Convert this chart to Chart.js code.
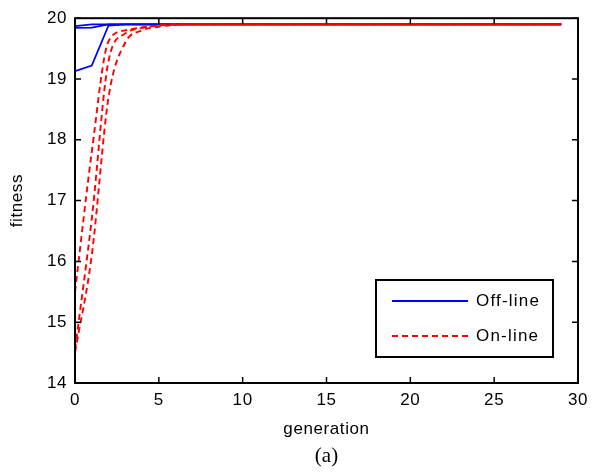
<!DOCTYPE html>
<html>
<head>
<meta charset="utf-8">
<script src="https://cdn.jsdelivr.net/npm/chart.js@4.4.1/dist/chart.umd.min.js"></script>
<style>
  html, body { margin: 0; padding: 0; background: #fff; }
  #wrap { width: 595px; height: 476px; }
</style>
</head>
<body>
<div id="wrap"><canvas id="mychart" width="595" height="476"></canvas></div>
<script>
// generations 0..29
var generations = [0, 1, 2, 3, 4, 5, 6, 7, 8, 9, 10, 11, 12, 13, 14, 15, 16, 17, 18, 19, 20, 21, 22, 23, 24, 25, 26, 27, 28, 29];

// off-line runs (blue, solid)
var offline1 = [19.13, 19.22, 19.88, 19.9, 19.9, 19.9, 19.9, 19.9, 19.9, 19.9, 19.9, 19.9, 19.9, 19.9, 19.9, 19.9, 19.9, 19.9, 19.9, 19.9, 19.9, 19.9, 19.9, 19.9, 19.9, 19.9, 19.9, 19.9, 19.9, 19.9];
var offline2 = [19.84, 19.845, 19.9, 19.9, 19.9, 19.9, 19.9, 19.9, 19.9, 19.9, 19.9, 19.9, 19.9, 19.9, 19.9, 19.9, 19.9, 19.9, 19.9, 19.9, 19.9, 19.9, 19.9, 19.9, 19.9, 19.9, 19.9, 19.9, 19.9, 19.9];
var offline3 = [19.87, 19.9, 19.9, 19.9, 19.9, 19.9, 19.9, 19.9, 19.9, 19.9, 19.9, 19.9, 19.9, 19.9, 19.9, 19.9, 19.9, 19.9, 19.9, 19.9, 19.9, 19.9, 19.9, 19.9, 19.9, 19.9, 19.9, 19.9, 19.9, 19.9];

// on-line runs (red, dashed)
var online1 = [15.5, 17.8, 19.62, 19.8, 19.85, 19.88, 19.9, 19.9, 19.9, 19.9, 19.9, 19.9, 19.9, 19.9, 19.9, 19.9, 19.9, 19.9, 19.9, 19.9, 19.9, 19.9, 19.9, 19.9, 19.9, 19.9, 19.9, 19.9, 19.9, 19.9];
var online2 = [14.55, 16.7, 19.3, 19.75, 19.84, 19.88, 19.9, 19.9, 19.9, 19.9, 19.9, 19.9, 19.9, 19.9, 19.9, 19.9, 19.9, 19.9, 19.9, 19.9, 19.9, 19.9, 19.9, 19.9, 19.9, 19.9, 19.9, 19.9, 19.9, 19.9];
var online3 = [14.5, 16.1, 18.7, 19.6, 19.8, 19.86, 19.89, 19.9, 19.9, 19.9, 19.9, 19.9, 19.9, 19.9, 19.9, 19.9, 19.9, 19.9, 19.9, 19.9, 19.9, 19.9, 19.9, 19.9, 19.9, 19.9, 19.9, 19.9, 19.9, 19.9];

var legendLabels = ['Off-line', 'On-line'];
var xTitle = 'generation';
var yTitle = 'fitness';
var caption = '(a)';

var BLUE = '#0000ff';
var RED = '#ff0000';
var FONT = '"Liberation Sans", Arial, sans-serif';

function toPoints(values) {
    return values.map(function (v, i) { return { x: generations[i], y: v }; });
}

function offSet(values) {
    return {
        label: legendLabels[0],
        data: toPoints(values),
        borderColor: BLUE,
        borderWidth: 1.8,
        pointRadius: 0,
        fill: false,
        order: 2
    };
}

function onSet(values) {
    return {
        label: legendLabels[1],
        data: toPoints(values),
        borderColor: RED,
        borderWidth: 1.9,
        borderDash: [6, 4],
        pointRadius: 0,
        fill: false,
        cubicInterpolationMode: 'monotone',
        order: 1
    };
}

// wider letter spacing for the axis text, like the MATLAB export
var spacing = {
    id: 'spacing',
    beforeDraw: function (chart) { chart.ctx.letterSpacing = '0.6px'; },
    afterDraw: function (chart) { chart.ctx.letterSpacing = '0px'; }
};

// frame with inward ticks, legend box and caption
var matlabFrame = {
    id: 'matlabFrame',
    afterDatasetsDraw: function (chart) {
        var ctx = chart.ctx;
        var a = chart.chartArea;
        var xs = chart.scales.x;
        var ys = chart.scales.y;
        ctx.save();
        ctx.strokeStyle = '#000';
        ctx.lineWidth = 2;
        ctx.strokeRect(a.left, a.top, a.right - a.left, a.bottom - a.top);

        ctx.lineWidth = 1.5;
        ctx.beginPath();
        xs.ticks.forEach(function (t) {
            var px = xs.getPixelForValue(t.value);
            ctx.moveTo(px, a.bottom); ctx.lineTo(px, a.bottom - 6);
            ctx.moveTo(px, a.top); ctx.lineTo(px, a.top + 6);
        });
        ys.ticks.forEach(function (t) {
            var py = ys.getPixelForValue(t.value);
            ctx.moveTo(a.left, py); ctx.lineTo(a.left + 6, py);
            ctx.moveTo(a.right, py); ctx.lineTo(a.right - 6, py);
        });
        ctx.stroke();

        // legend
        var bx = 376, by = 280, bw = 177, bh = 77;
        ctx.fillStyle = '#fff';
        ctx.fillRect(bx, by, bw, bh);
        ctx.lineWidth = 2;
        ctx.strokeRect(bx, by, bw, bh);

        ctx.lineWidth = 1.8;
        ctx.strokeStyle = BLUE;
        ctx.beginPath(); ctx.moveTo(392, 301); ctx.lineTo(468, 301); ctx.stroke();
        ctx.strokeStyle = RED;
        ctx.setLineDash([6, 4]);
        ctx.beginPath(); ctx.moveTo(392, 336); ctx.lineTo(468, 336); ctx.stroke();
        ctx.setLineDash([]);

        ctx.fillStyle = '#000';
        ctx.font = '17px ' + FONT;
        ctx.textBaseline = 'middle';
        ctx.textAlign = 'left';
        ctx.letterSpacing = '1.2px';
        ctx.fillText(legendLabels[0], 476, 301);
        ctx.fillText(legendLabels[1], 476, 336);
        ctx.letterSpacing = '0px';

        // caption under the axis title
        ctx.font = '21px "Liberation Serif", "Times New Roman", serif';
        ctx.textAlign = 'center';
        ctx.fillText(caption, (a.left + a.right) / 2, 456);
        ctx.restore();
    }
};

document.addEventListener('DOMContentLoaded', function () {
    var ctx = document.getElementById('mychart').getContext('2d');
    var mychart = new Chart(ctx, {
        type: 'line',
        data: {
            datasets: [
                offSet(offline1), offSet(offline2), offSet(offline3),
                onSet(online1), onSet(online2), onSet(online3)
            ]
        },
        options: {
            responsive: false,
            animation: false,
            layout: { padding: { top: 17, right: 17, left: 0, bottom: 0 } },
            plugins: {
                legend: { display: false },
                tooltip: { enabled: false }
            },
            scales: {
                x: {
                    type: 'linear',
                    min: 0,
                    max: 30,
                    grid: { display: false, drawTicks: false },
                    border: { display: false },
                    ticks: { stepSize: 5, color: '#000', padding: 7, font: { family: FONT, size: 17 }, maxRotation: 0 },
                    title: { display: true, text: xTitle, color: '#000', font: { family: FONT, size: 17 }, padding: { top: 0, bottom: 36 } },
                    afterFit: function (s) { s.height = 93; }
                },
                y: {
                    min: 14,
                    max: 20,
                    grid: { display: false, drawTicks: false },
                    border: { display: false },
                    ticks: { stepSize: 1, color: '#000', padding: 8, font: { family: FONT, size: 17 } },
                    title: { display: true, text: yTitle, color: '#000', font: { family: FONT, size: 17 }, padding: { top: 7, bottom: 0 } },
                    afterFit: function (s) { s.width = 75; }
                }
            }
        },
        plugins: [spacing, matlabFrame]
    });
});
</script>
</body>
</html>
